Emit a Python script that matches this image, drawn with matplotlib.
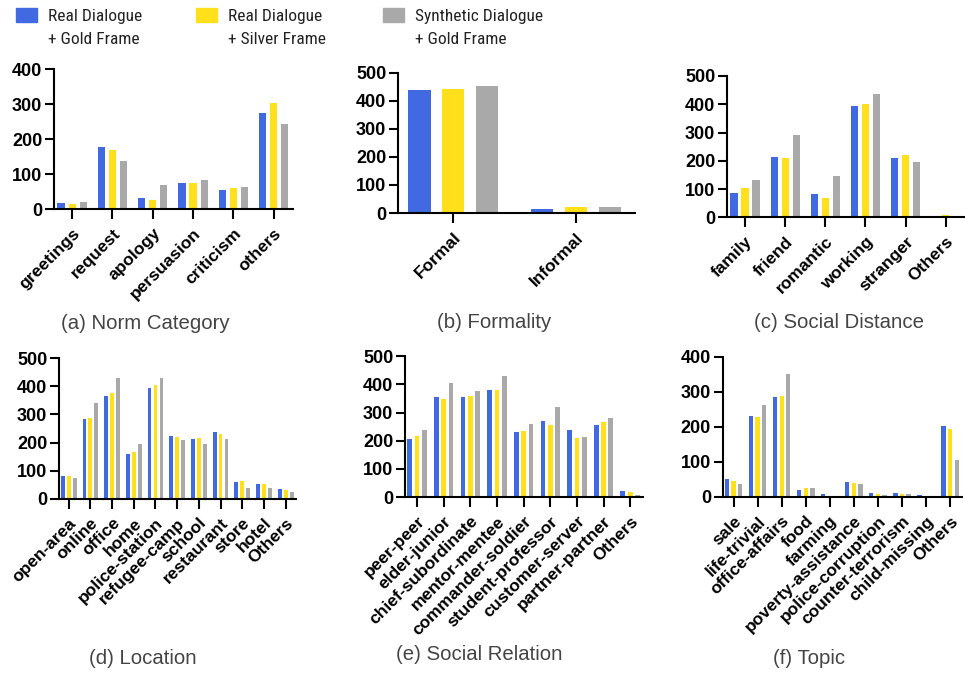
import matplotlib
matplotlib.use("Agg")
import matplotlib.pyplot as plt
from matplotlib import font_manager
from matplotlib.patches import Rectangle
import numpy as np

# ---------------- data ----------------
series_labels = ["Real Dialogue\n+ Gold Frame", "Real Dialogue\n+ Silver Frame", "Synthetic Dialogue\n+ Gold Frame"]
series_colors = ["#4169E1", "#FFE01B", "#A9A9A9"]

cat_a = ['greetings', 'request', 'apology', 'persuasion', 'criticism', 'others']
a_gold = [18, 177, 32, 75, 54, 274]
a_silver = [15, 168, 27, 75, 59, 304]
a_synth = [20, 138, 70, 83, 64, 244]

cat_b = ['Formal', 'Informal']
b_gold = [437, 13]
b_silver = [442, 22]
b_synth = [453, 22]

cat_c = ['family', 'friend', 'romantic', 'working', 'stranger', 'Others']
c_gold = [87, 212, 83, 394, 211, 4]
c_silver = [103, 211, 67, 402, 221, 7]
c_synth = [133, 292, 145, 435, 195, 1]

cat_d = ['open-area', 'online', 'office', 'home', 'police-station', 'refugee-camp',
         'school', 'restaurant', 'store', 'hotel', 'Others']
d_gold = [81, 284, 367, 159, 394, 224, 213, 238, 59, 53, 34]
d_silver = [81, 289, 376, 166, 405, 220, 217, 229, 63, 51, 31]
d_synth = [74, 341, 429, 195, 430, 208, 194, 213, 38, 37, 23]

cat_e = ['peer-peer', 'elder-junior', 'chief-subordinate', 'mentor-mentee', 'commander-soldier',
         'student-professor', 'customer-server', 'partner-partner', 'Others']
e_gold = [206, 354, 354, 379, 230, 269, 237, 256, 21]
e_silver = [218, 348, 358, 379, 235, 256, 210, 267, 19]
e_synth = [238, 405, 377, 429, 259, 321, 214, 281, 7]

cat_f = ['sale', 'life-trivial', 'office-affairs', 'food', 'farming', 'poverty-assistance',
         'police-corruption', 'counter-terrorism', 'child-missing', 'Others']
f_gold = [50, 230, 284, 20, 8, 42, 10, 11, 5, 201]
f_silver = [45, 227, 289, 26, 3, 40, 8, 8, 2, 193]
f_synth = [36, 261, 351, 25, 2, 36, 5, 8, 0, 105]

captions = ["(a) Norm Category", "(b) Formality", "(c) Social Distance",
            "(d) Location", "(e) Social Relation", "(f) Topic"]

# ---------------- fonts ----------------
avail = sorted({f.name for f in font_manager.fontManager.ttflist})
main_font = "Liberation Sans" if "Liberation Sans" in avail else "DejaVu Sans"
legend_font = main_font
preferred = ["Liberation Sans Narrow", "Arial Narrow", "Roboto Condensed",
             "Noto Sans ExtraCondensed", "Noto Sans Condensed", "Open Sans Condensed",
             "DejaVu Sans Condensed"]
for p in preferred:
    if p in avail:
        legend_font = p
        break
else:
    for n in avail:
        if ("Condensed" in n or "Narrow" in n) and "Mono" not in n and "Serif" not in n:
            legend_font = n
            break
plt.rcParams['font.family'] = [main_font, 'DejaVu Sans']

W, H = 965, 675
fig = plt.figure(figsize=(W / 100, H / 100), dpi=100)

# pixel boxes: left, right, top(y of max tick), bottom(y of 0)
panels = [
    (cat_a, [a_gold, a_silver, a_synth], 400, (54, 293, 69, 209), (145, 323)),
    (cat_b, [b_gold, b_silver, b_synth], 500, (398, 635, 72.7, 213), (494, 322)),
    (cat_c, [c_gold, c_silver, c_synth], 500, (727, 965, 76, 217.3), (839, 322)),
    (cat_d, [d_gold, d_silver, d_synth], 500, (59, 296, 358.3, 498.7), (143, 658)),
    (cat_e, [e_gold, e_silver, e_synth], 500, (405, 643, 356.3, 497), (479, 655)),
    (cat_f, [f_gold, f_silver, f_synth], 400, (722.7, 961.7, 356.7, 496.7), (809, 659)),
]

bar_w = 0.18
offsets = [-0.275, 0.0, 0.275]

for (cats, vals, ymax, (l, r, t, b), (cx, cy)), cap in zip(panels, captions):
    ax = fig.add_axes([l / W, 1 - b / H, (r - l) / W, (b - t) / H])
    x = np.arange(len(cats))
    for s, (v, col) in enumerate(zip(vals, series_colors)):
        ax.bar(x + offsets[s], v, width=bar_w, color=col, edgecolor='none', zorder=2)
    ax.set_xlim(-0.45, len(cats) - 0.52)
    ax.set_ylim(0, ymax)
    ax.set_yticks(np.arange(0, ymax + 1, 100))
    ax.set_xticks(x)
    ax.set_xticklabels(cats, rotation=45, ha='right', va='top', rotation_mode='anchor',
                       fontsize=12.5, fontweight='bold')
    for lab in ax.get_yticklabels():
        lab.set_fontweight('bold')
        lab.set_fontsize(13)
    for sp in ['top', 'right']:
        ax.spines[sp].set_visible(False)
    for sp in ['left', 'bottom']:
        ax.spines[sp].set_linewidth(1.5)
        ax.spines[sp].set_color('black')
    ax.tick_params(axis='y', length=6.5, width=1.5, pad=2, colors='black')
    ax.tick_params(axis='x', length=7, width=1.5, pad=5, colors='black')
    ax.set_facecolor('none')
    fig.text(cx / W, 1 - cy / H, cap, ha='center', va='center', fontsize=14.7,
             color='#444444')

# ---------------- legend ----------------
leg_x = [16, 196, 383]
for lx, lab, col in zip(leg_x, series_labels, series_colors):
    fig.patches.append(Rectangle((lx / W, 1 - 22 / H), 21 / W, 14 / H,
                                 transform=fig.transFigure, color=col, zorder=3))
    l1, l2 = lab.split("\n")
    fig.text((lx + 32) / W, 1 - 17 / H, l1, ha='left', va='center', fontsize=12.5,
             family=[legend_font, 'DejaVu Sans'], color='#222222')
    fig.text((lx + 32) / W, 1 - 39 / H, l2, ha='left', va='center', fontsize=12.5,
             family=[legend_font, 'DejaVu Sans'], color='#222222')

fig.savefig("out.png", dpi=100)
